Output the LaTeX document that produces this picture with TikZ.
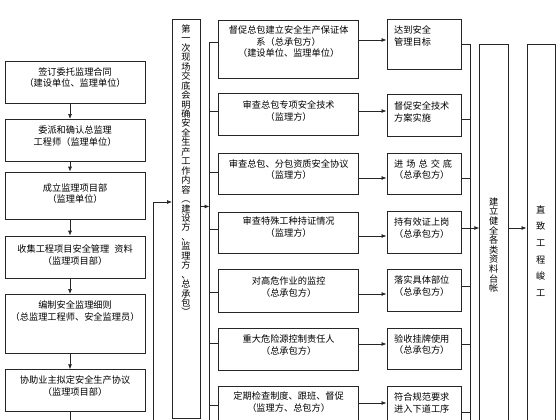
\documentclass[tikz,border=0pt]{standalone}
\usepackage{fontspec}
\newfontfamily\cjk{Noto Sans CJK SC}
\usetikzlibrary{arrows.meta,calc}
\begin{document}
\begin{tikzpicture}[x=1pt,y=-1pt,
  box/.style={draw=black!85, line width=0.7pt, inner sep=0pt, anchor=north west},
  txt/.style={font=\cjk\fontsize{9.2}{11.7}\selectfont, inner sep=0pt, align=center, anchor=north, text=black},
  ltxt/.style={txt, align=left, anchor=north west},
  ln/.style={draw=black!85, line width=0.7pt},
  arr/.style={ln, -{Latex[length=5pt,width=4pt]}},
]
\useasboundingbox (0,0) rectangle (560,420);
\fill[white] (0,0) rectangle (560,420);
\clip (0,0) rectangle (560,420);
\newcommand\bx[5]{\node[box, minimum width=#4pt, minimum height=#5pt] (#1) at (#2,#3) {};}
% left column
\bx{L1}{5}{60.7}{139.5}{42}
\bx{L2}{5}{119}{139.5}{42}
\bx{L3}{5}{171.7}{139.5}{47.3}
\bx{L4}{5}{235.7}{139.5}{42.6}
\bx{L5}{5}{294}{139.5}{58.7}
\bx{L6}{5}{369.3}{139.5}{41.7}
\node[txt] (L1t) at ($(L1.north)+(0,6.5)$) {签订委托监理合同\\（建设单位、监理单位）};
\node[txt] (L2t) at ($(L2.north)+(0,6.5)$) {委派和确认总监理\\工程师（监理单位）};
\node[txt] (L3t) at ($(L3.north)+(0,11.5)$) {成立监理项目部\\（监理单位）};
\node[txt] (L4t) at ($(L4.north)+(0,9)$) {收集工程项目安全管理\hspace{5pt}资料\\（监理项目部）};
\node[txt] (L5t) at ($(L5.north)+(0,6.5)$) {编制安全监理细则\\（总监理工程师、安全监理员）};
\node[txt] (L6t) at ($(L6.north)+(0,6.5)$) {协助业主拟定安全生产协议\\（监理项目部）};
\coordinate (ax) at (70,0);
\draw[arr] (L1.south -| ax) -- (L2.north -| ax);
\draw[arr] (L2.south -| ax) -- (L3.north -| ax);
\draw[arr] (L3.south -| ax) -- (L4.north -| ax);
\draw[arr] (L4.south -| ax) -- (L5.north -| ax);
\draw[arr] (L5.south -| ax) -- (L6.north -| ax);
\coordinate (l6bot) at (70,425);
\draw[ln] (L6.south -| l6bot) -- (l6bot);
% tall box 1
\bx{TB1}{172}{19.3}{28}{399}
\node[txt, font=\cjk\fontsize{9.2}{9.45}\selectfont] (TB1t) at (186,24.5) {第\\一\\次\\现\\场\\交\\底\\会\\明\\确\\安\\全\\生\\产\\工\\作\\内\\容\\︵\\建\\设\\方\\、\\监\\理\\方\\、\\总\\承\\包\\︶};
\coordinate (feedbot) at (153.3,425);
\draw[arr] (feedbot) |- (TB1.west |- 0,202);
\coordinate (bus1) at (209.5,42);
\coordinate (bus1end) at (209.5,425);
\draw[ln] (bus1) -- (bus1end);
\draw[arr] (TB1.east |- 0,206.5) -- (bus1 |- 0,206.5);
% middle column
\bx{M1}{218.3}{20}{140}{58}
\bx{M2}{218.3}{93}{140}{42}
\bx{M3}{218.3}{152.7}{140}{41.3}
\bx{M4}{218.3}{211.7}{140}{41.6}
\bx{M5}{218.3}{269.3}{140}{42.4}
\bx{M6}{218.3}{328.3}{140}{41.7}
\bx{M7}{218.3}{386}{140}{60}
\node[txt] (M1t) at ($(M1.north)+(0,5.5)$) {督促总包建立安全生产保证体\\系（总承包方）\\（建设单位、监理单位）};
\node[txt] (M2t) at ($(M2.north)+(0,7.5)$) {审查总包专项安全技术\\（监理方）};
\node[txt] (M3t) at ($(M3.north)+(0,6.5)$) {审查总包、分包资质安全协议\\（监理方）};
\node[txt] (M4t) at ($(M4.north)+(0,5)$) {审查特殊工种持证情况\\（监理方）};
\node[txt] (M5t) at ($(M5.north)+(0,7.5)$) {对高危作业的监控\\（总承包方）};
\node[txt] (M6t) at ($(M6.north)+(0,6.5)$) {重大危险源控制责任人\\（总承包方）};
\node[txt] (M7t) at ($(M7.north)+(0,5.5)$) {定期检查制度、跟班、督促\\（监理方、总包方）};
\draw[ln] (bus1 |- 0,42) -- (M1.west |- 0,42);
\draw[ln] (bus1 |- 0,111) -- (M2.west |- 0,111);
\draw[ln] (bus1 |- 0,172) -- (M3.west |- 0,172);
\draw[ln] (bus1 |- 0,229) -- (M4.west |- 0,229);
\draw[ln] (bus1 |- 0,292) -- (M5.west |- 0,292);
\draw[ln] (bus1 |- 0,343) -- (M6.west |- 0,343);
\draw[ln] (bus1 |- 0,405) -- (M7.west |- 0,405);
% right column
\bx{R1}{386.5}{19.3}{74.5}{50}
\bx{R2}{386.5}{94.3}{74.5}{41.7}
\bx{R3}{386.5}{152.7}{74.5}{41.6}
\bx{R4}{386.5}{211}{74.5}{41.7}
\bx{R5}{386.5}{269.3}{74.5}{41.7}
\bx{R6}{386.5}{327.7}{74.5}{41.6}
\bx{R7}{386.5}{386}{74.5}{60}
\node[ltxt] (R1t) at ($(R1.north west)+(7.5,6.5)$) {达到安全\\管理目标};
\node[ltxt] (R2t) at ($(R2.north west)+(7.5,7)$) {督促安全技术\\方案实施};
\node[ltxt] (R3t) at ($(R3.north west)+(7.5,6.5)$) {进\hspace{3pt}场\hspace{3pt}总\hspace{3pt}交\hspace{3pt}底\\（总承包方）};
\node[ltxt] (R4t) at ($(R4.north west)+(7.5,6.5)$) {持有效证上岗\\（总承包方）};
\node[ltxt] (R5t) at ($(R5.north west)+(7.5,6.5)$) {落实具体部位\\（总承包方）};
\node[ltxt] (R6t) at ($(R6.north west)+(7.5,6.5)$) {验收挂牌使用\\（总承包方）};
\node[ltxt] (R7t) at ($(R7.north west)+(7.5,6.5)$) {符合规范要求\\进入下道工序};
\draw[arr] (M1.east |- 0,40) -- (R1.west |- 0,40);
\draw[arr] (M2.east |- 0,111) -- (R2.west |- 0,111);
\draw[arr] (M3.east |- 0,178) -- (R3.west |- 0,178);
\draw[arr] (M4.east |- 0,236) -- (R4.west |- 0,236);
\draw[arr] (M5.east |- 0,294) -- (R5.west |- 0,294);
\draw[arr] (M6.east |- 0,344) -- (R6.west |- 0,344);
\draw[arr] (M7.east |- 0,403) -- (R7.west |- 0,403);
% right bus
\coordinate (bus2) at (470.5,44);
\coordinate (bus2end) at (470.5,425);
\draw[ln] (bus2) -- (bus2end);
\draw[ln] (R1.east |- 0,44) -- (bus2 |- 0,44);
\draw[ln] (R2.east |- 0,119) -- (bus2 |- 0,119);
\draw[ln] (R3.east |- 0,178) -- (bus2 |- 0,178);
\draw[ln] (R5.east |- 0,286) -- (bus2 |- 0,286);
\draw[ln] (R6.east |- 0,344) -- (bus2 |- 0,344);
\draw[ln] (R7.east |- 0,412) -- (bus2 |- 0,412);
% tall boxes 2 and 3
\bx{TB2}{479.3}{44.3}{28.7}{400}
\bx{TB3}{526.5}{44.3}{28.5}{400}
\node[txt, font=\cjk\fontsize{9.2}{9.6}\selectfont, anchor=center] (TB2t) at (493.6,245) {建\\立\\健\\全\\各\\类\\资\\料\\台\\帐};
\node[txt, font=\cjk\fontsize{9.2}{16.7}\selectfont, anchor=center] (TB3t) at (540.7,251) {直\\致\\工\\程\\峻\\工};
\draw[arr] (R4.east |- 0,228) -- (TB2.west |- 0,228);
\draw[arr] (TB2.east |- 0,228) -- (TB3.west |- 0,228);
\end{tikzpicture}
\end{document}
